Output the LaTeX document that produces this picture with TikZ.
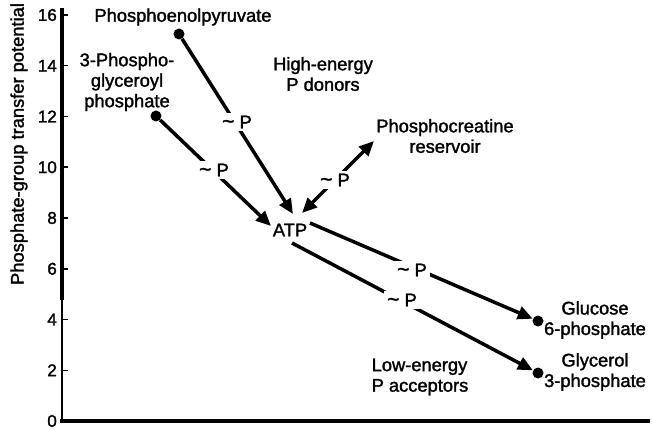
\documentclass[tikz,border=0pt]{standalone}
\usepackage{fontspec}
\setmainfont{Liberation Sans}
\newfontfamily\hv{Liberation Sans}[FakeBold=1.6]
\usetikzlibrary{arrows.meta}
\begin{document}
\begin{tikzpicture}[x=1pt,y=-1pt,
 lbl/.style={font=\hv\fontsize{18.3}{20.5}\selectfont, inner sep=0pt, align=center},
 tl/.style={lbl, fill=white, inner sep=3pt},
 dotn/.style={circle, fill=black, inner sep=0pt, minimum size=11pt},
 tipa/.tip={Triangle[length=15pt,width=13pt]},
 arr/.style={line width=3.5pt, -tipa},
 darr/.style={line width=3.5pt, tipa-tipa},
 tickm/.style={line width=1.5pt},
 num/.style={font=\hv\fontsize{17}{17}\selectfont, inner sep=0pt, anchor=east}]
\useasboundingbox (0,0) rectangle (652,430);
% axes
\coordinate (ytop) at (62,8);
\coordinate (ymid) at (62,300);
\coordinate (ybot) at (62,423);
\coordinate (xl) at (60,421);
\coordinate (xr) at (650,421);
\draw[line width=4.5pt] (ytop) -- (ymid);
\draw[line width=2.5pt] (ymid) -- (ybot);
\draw[line width=4pt] (xl) -- (xr);
\foreach \v in {0,2,...,16}{
  \coordinate (tk\v) at (62,{421-\v*25.375});
  \draw[tickm] (tk\v) -- ++(6,0);
  \node[num] (n\v) at (57,{421-\v*25.375}) {\v};
}
\node[lbl, rotate=90] (ylab) at (19,144) {Phosphate-group transfer potential};
% text nodes
\node[lbl] (pep) at (183,17) {Phosphoenolpyruvate};
\node[dotn] (pepd) at (179,34) {};
\node[lbl] (pgp) at (127,82) {3-Phospho-\\glyceroyl\\phosphate};
\node[dotn] (pgd) at (156,116) {};
\node[lbl] (hi) at (323,74) {High-energy\\P donors};
\node[lbl] (pcr) at (445,136) {Phosphocreatine\\reservoir};
\node[lbl] (atp) at (290,230) {ATP};
\node[lbl] (glu) at (595,320) {Glucose\\6-phosphate};
\node[dotn] (gd) at (538,321) {};
\node[lbl] (gly) at (595,372) {Glycerol\\3-phosphate};
\node[dotn] (yd) at (538,373) {};
\node[lbl, align=left] (lo) at (420,377) {Low-energy\\P acceptors};
% arrow ends
\coordinate (t1) at (293,214);
\coordinate (t2) at (271,226);
\coordinate (t3a) at (302,213);
\coordinate (t3b) at (374,141);
\coordinate (s4) at (310,223);
\coordinate (s5) at (292,243);
% connectors
\draw[arr] (pepd) -- (t1);
\draw[arr] (pgd) -- (t2);
\draw[darr] (t3a) -- (t3b);
\draw[arr] (s4) -- (gd);
\draw[arr] (s5) -- (yd);
% ~P labels
\node[tl] (p1) at (237,122) {{\fontsize{21}{20}\selectfont\textasciitilde}\ P};
\node[tl] (p2) at (214,170) {{\fontsize{21}{20}\selectfont\textasciitilde}\ P};
\node[tl] (p3) at (335,180) {{\fontsize{21}{20}\selectfont\textasciitilde}\ P};
\node[tl] (p4) at (412,270) {{\fontsize{21}{20}\selectfont\textasciitilde}\ P};
\node[tl] (p5) at (402,300) {{\fontsize{21}{20}\selectfont\textasciitilde}\ P};
\end{tikzpicture}
\end{document}
